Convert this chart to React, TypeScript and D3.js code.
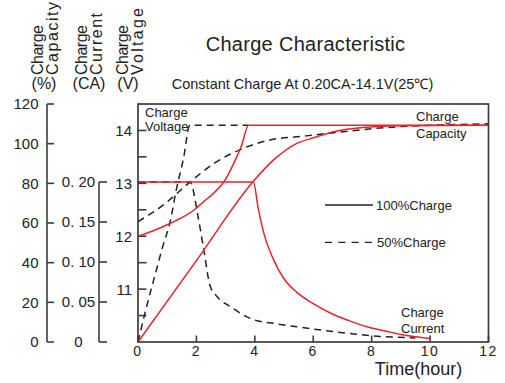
import React from 'react';
import * as d3 from 'd3';

// ---------- data ----------
const hourTicks = [0, 2, 4, 6, 8, 10, 12];
const capacityTicks = [0, 20, 40, 60, 80, 100, 120];
const currentTicks = [0, 0.05, 0.1, 0.15, 0.2];
const currentTickLabels = ['0', '0. 05', '0. 10', '0. 15', '0. 20'];
const voltageTicks = [10.5, 11, 11.5, 12, 12.5, 13, 13.5, 14];
const voltageLabels = [11, 12, 13, 14];

// 100% charge (solid, red)
const fullVoltT = [0, 0.5, 1.1, 1.5, 1.95, 2.24, 2.6, 2.98, 3.33, 3.55, 3.78, 12];
const fullVoltV = [12.0, 12.1, 12.24, 12.35, 12.51, 12.65, 12.82, 13.06, 13.44, 13.72, 14.1, 14.1];
const fullCurT = [0, 3.95, 4.12, 4.3, 4.64, 4.98, 5.44, 6.0, 6.6, 7.2, 7.84, 8.5, 9.0, 9.5, 10.0];
const fullCurA = [0.2, 0.2, 0.166, 0.137, 0.103, 0.08, 0.062, 0.048, 0.036, 0.027, 0.019, 0.0135, 0.0095, 0.0065, 0.0045];
const fullCapT = [0, 2, 3.95, 4.64, 5.33, 6.13, 6.69, 7.84, 8.98, 10.5, 12];
const fullCapC = [0, 41, 81, 91.8, 99.3, 103.5, 106, 108.3, 109, 109.2, 109.3];

// 50% charge (dashed, black)
const halfVoltT = [0, 0.3, 0.6, 0.87, 1.1, 1.3, 1.55, 1.78, 3.78];
const halfVoltV = [10.0, 10.68, 11.3, 11.85, 12.27, 12.85, 13.45, 14.1, 14.1];
const halfCurT = [0, 1.78, 2.07, 2.24, 2.47, 2.7, 3.15, 3.95, 4.7, 5.44, 6.7, 8.07, 9.5];
const halfCurA = [0.2, 0.2, 0.154, 0.118, 0.07, 0.057, 0.0445, 0.028, 0.023, 0.019, 0.013, 0.0076, 0.005];
const halfCapT = [0, 0.86, 1.73, 2.6, 3.5, 4.53, 5.55, 6.7, 7.84, 9.0, 10.5, 12];
const halfCapC = [60.7, 69, 80, 90, 97, 101.9, 103.6, 105.5, 107.3, 108.6, 109.5, 110];

const legendLabels = ['100%Charge', '50%Charge'];

// ---------- layout ----------
const W = 505;
const H = 383;
const P = { left: 138, right: 488.5, top: 104, bottom: 342 };
const FONT = 'Liberation Sans, Arial, Helvetica, sans-serif';
const RED = '#e8232b';
const INK = '#222';
const AXIS = '#3c3c3c';

const zip = (a: number[], b: number[]) => a.map((v, i) => [v, b[i]] as [number, number]);

export default function App() {
  const x = d3.scaleLinear().domain([0, 12]).range([P.left, P.right]);
  const yV = d3.scaleLinear().domain([10, 14.5]).range([P.bottom, P.top]);
  const yC = d3.scaleLinear().domain([0, 120]).range([P.bottom, P.top]);
  const yA = d3.scaleLinear().domain([0, 0.2]).range([P.bottom, 182]);

  const mk = (ys: d3.ScaleLinear<number, number>) =>
    d3
      .line<[number, number]>()
      .x((d) => x(d[0]))
      .y((d) => ys(d[1]))
      .curve(d3.curveMonotoneX);

  const lineV = mk(yV);
  const lineC = mk(yC);
  const lineA = mk(yA);

  const capAxisX = 47;
  const curAxisX = 99;
  const dash = '7,5';

  const rot = (tx: number, ty: number, s: string, len: number, key: string) => (
    <text
      key={key}
      transform={`translate(${tx},${ty}) rotate(-90)`}
      fontSize={16}
      fill={INK}
      textLength={len}
      lengthAdjust="spacing"
    >
      {s}
    </text>
  );

  return (
    <svg
      width={W}
      height={H}
      style={{ position: 'absolute', left: 0, top: 0, background: '#fff' }}
      fontFamily={FONT}
    >
      <rect width={W} height={H} fill="#fff" />

      {/* titles */}
      <text x={305.5} y={51} textAnchor="middle" fontSize={20} letterSpacing={0.3} fill={INK}>
        Charge Characteristic
      </text>
      <text x={302.5} y={89} textAnchor="middle" fontSize={14.5} fill={INK}>
        Constant Charge At 0.20CA-14.1V(25℃)
      </text>

      {/* rotated axis titles */}
      {rot(43, 75, 'Charge', 50, 'a1')}
      {rot(58, 75, 'Capacity', 73, 'a2')}
      {rot(86.5, 75, 'Charge', 50, 'b1')}
      {rot(102, 75, 'Current', 62, 'b2')}
      {rot(128, 75, 'Charge', 50, 'c1')}
      {rot(143, 75, 'Voltage', 67, 'c2')}
      <text x={44} y={88.5} textAnchor="middle" fontSize={16} fill={INK}>(%)</text>
      <text x={89} y={88.5} textAnchor="middle" fontSize={16} fill={INK}>(CA)</text>
      <text x={128} y={88.5} textAnchor="middle" fontSize={16} fill={INK}>(V)</text>

      {/* capacity axis */}
      <line x1={capAxisX} x2={capAxisX} y1={yC(120)} y2={yC(0)} stroke={AXIS} strokeWidth={1.6} />
      {capacityTicks.map((t) => (
        <g key={'ct' + t}>
          <line x1={capAxisX} x2={capAxisX + 7} y1={yC(t)} y2={yC(t)} stroke={AXIS} strokeWidth={1.6} />
          <text x={38.5} y={yC(t)} dy="0.36em" textAnchor="end" fontSize={15} fill={INK}>
            {t}
          </text>
        </g>
      ))}

      {/* current axis */}
      <line x1={curAxisX} x2={curAxisX} y1={yA(0.2)} y2={yA(0)} stroke={AXIS} strokeWidth={1.6} />
      {currentTicks.map((t, i) => (
        <g key={'at' + t}>
          <line x1={curAxisX} x2={curAxisX + 8} y1={yA(t)} y2={yA(t)} stroke={AXIS} strokeWidth={1.6} />
          <text x={78.5} y={yA(t)} dy="0.36em" textAnchor="middle" fontSize={15} fill={INK}>
            {currentTickLabels[i]}
          </text>
        </g>
      ))}

      {/* voltage ticks (inside plot) */}
      {voltageTicks.map((t) => (
        <line key={'vt' + t} x1={P.left} x2={P.left + 8.5} y1={yV(t)} y2={yV(t)} stroke={AXIS} strokeWidth={1.6} />
      ))}
      {voltageLabels.map((t) => (
        <text key={'vl' + t} x={132} y={yV(t)} dy="0.36em" textAnchor="end" fontSize={15} fill={INK}>
          {t}
        </text>
      ))}

      {/* x ticks */}
      {hourTicks.map((t) => (
        <g key={'xt' + t}>
          <line x1={x(t)} x2={x(t)} y1={P.bottom} y2={P.bottom - 6.5} stroke={AXIS} strokeWidth={1.6} />
          <text x={x(t)} y={356} textAnchor="middle" fontSize={14} letterSpacing={1.5} fill={INK}>
            {t}
          </text>
        </g>
      ))}
      <text x={418.5} y={374.5} textAnchor="middle" fontSize={18} fill={INK}>
        Time(hour)
      </text>

      {/* dashed 50% curves */}
      <g fill="none" stroke={INK} strokeWidth={1.5} strokeDasharray={dash}>
        <path d={lineA(zip(halfCurT, halfCurA)) || ''} />
        <path d={lineC(zip(halfCapT, halfCapC)) || ''} />
        <path d={lineV(zip(halfVoltT, halfVoltV)) || ''} />
      </g>

      {/* solid 100% curves */}
      <g fill="none" stroke={RED} strokeWidth={1.5}>
        <path d={lineA(zip(fullCurT, fullCurA)) || ''} />
        <path d={lineC(zip(fullCapT, fullCapC)) || ''} />
        <path d={lineV(zip(fullVoltT, fullVoltV)) || ''} />
      </g>

      {/* plot frame */}
      <rect
        x={P.left}
        y={P.top}
        width={P.right - P.left}
        height={P.bottom - P.top}
        fill="none"
        stroke={AXIS}
        strokeWidth={1.7}
      />

      {/* annotations */}
      <g fontSize={13} fill={INK}>
        <text x={145} y={117}>Charge</text>
        <text x={145} y={131}>Voltage</text>
        <text x={416} y={121}>Charge</text>
        <text x={416} y={137.5}>Capacity</text>
        <text x={401} y={316.5}>Charge</text>
        <text x={401} y={333}>Current</text>
      </g>

      {/* legend */}
      <line x1={325} x2={373} y1={205} y2={205} stroke={INK} strokeWidth={1.3} />
      <text x={376} y={210} fontSize={13} fill={INK}>{legendLabels[0]}</text>
      <line x1={325} x2={373} y1={242.3} y2={242.3} stroke={INK} strokeWidth={1.3} strokeDasharray="7,6.3" />
      <text x={377} y={247} fontSize={13} fill={INK}>{legendLabels[1]}</text>
    </svg>
  );
}
